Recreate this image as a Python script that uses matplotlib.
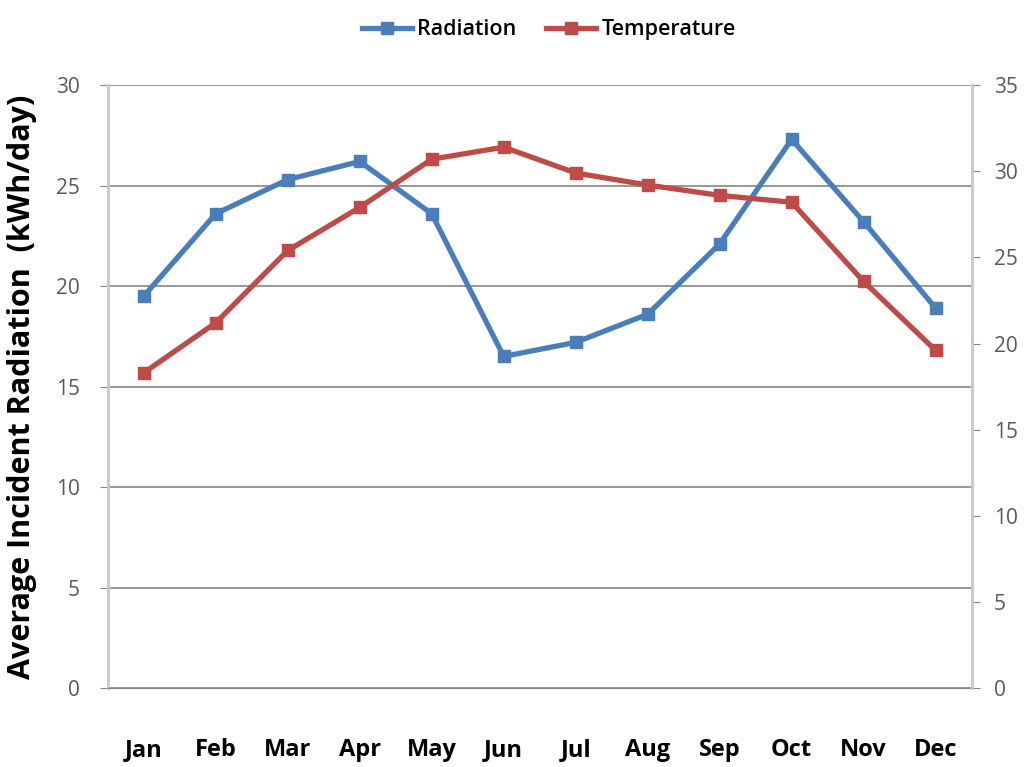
import matplotlib
matplotlib.use('Agg')
from matplotlib import pyplot as plt

plt.rcParams.update({
    'font.family': ['Open Sans', 'DejaVu Sans'],
    'font.size': 14,
})

months = ['Jan', 'Feb', 'Mar', 'Apr', 'May', 'Jun', 'Jul', 'Aug', 'Sep', 'Oct', 'Nov', 'Dec']
radiation = [19.5, 23.6, 25.3, 26.2, 23.6, 16.5, 17.2, 18.6, 22.1, 27.3, 23.2, 18.9]
temperature = [18.3, 21.2, 25.4, 27.9, 30.7, 31.4, 29.9, 29.2, 28.6, 28.2, 23.6, 19.6]

blue = '#4a7ebb'
red = '#be4b48'
tick_gray = '#595959'

fig = plt.figure(figsize=(10.26, 7.67), dpi=100)
ax1 = fig.add_axes([0.105, 0.103, 0.842, 0.786])
x = list(range(len(months)))

l1, = ax1.plot(x, radiation, color=blue, lw=3.8, marker='s', ms=8, label='Radiation')
ax1.set_ylim(0, 30)
ax1.set_yticks(range(0, 31, 5))
ax1.set_xlim(-0.5, len(months) - 0.5)
ax1.set_xticks(x)
ax1.set_xticklabels(months, fontweight='bold', fontsize=17, fontstretch='condensed')
ax1.grid(axis='y', color='#868686', lw=1.2)
ax1.set_axisbelow(True)
ax1.tick_params(axis='x', length=0, pad=36)
ax1.tick_params(axis='y', length=6, color='#868686', labelcolor=tick_gray, labelsize=15, pad=14)
ax1.set_ylabel('Average Incident Radiation  (kWh/day)', fontweight='bold', fontsize=22, labelpad=14)
for s in ['top', 'right']:
    ax1.spines[s].set_visible(False)
ax1.spines['left'].set_color('#c8c8c8')
ax1.spines['left'].set_linewidth(2)
ax1.spines['bottom'].set_color('#868686')

ax2 = ax1.twinx()
l2, = ax2.plot(x, temperature, color=red, lw=3.8, marker='s', ms=8, label='Temperature')
ax2.set_ylim(0, 35)
ax2.set_yticks(range(0, 36, 5))
ax2.tick_params(axis='y', length=6, color='#868686', labelcolor=tick_gray, labelsize=15, pad=10)
for s in ['top', 'left', 'bottom']:
    ax2.spines[s].set_visible(False)
ax2.spines['right'].set_color('#c8c8c8')
ax2.spines['right'].set_linewidth(2)

fig.legend([l1, l2], ['Radiation', 'Temperature'], loc='upper center', bbox_to_anchor=(0.535, 1.0),
           ncol=2, frameon=False, handlelength=2.3, handletextpad=0.25, columnspacing=1.4,
           prop={'size': 15.5, 'weight': 'semibold'})

fig.savefig('out.png', dpi=100)
